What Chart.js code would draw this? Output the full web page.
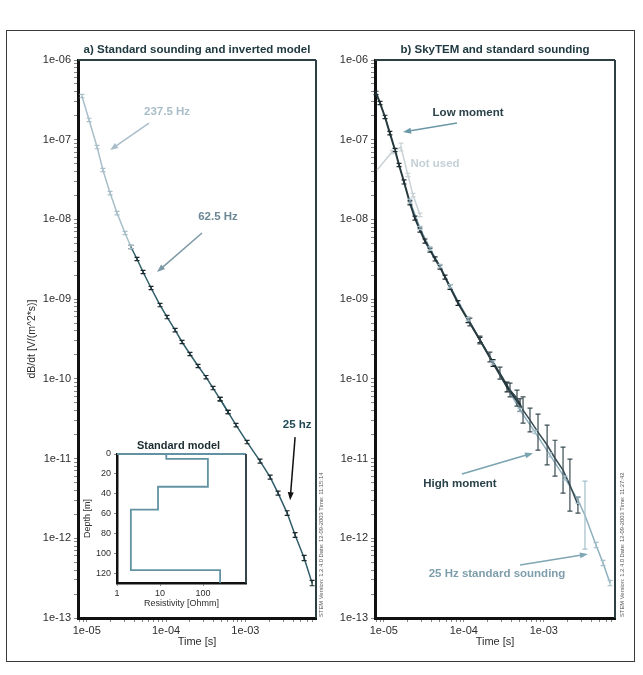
<!DOCTYPE html>
<html>
<head>
<meta charset="utf-8">
<script src="https://cdn.jsdelivr.net/npm/chart.js@4.4.1/dist/chart.umd.min.js"></script>
<style>
  body { margin: 0; background: #fff; }
  #wrap { position: relative; width: 643px; height: 675px; overflow: hidden; }
  #frame { position: absolute; left: 6px; top: 30px; width: 629px; height: 632px; border: 1.5px solid #3a3a3a; box-sizing: border-box; }
  canvas { position: absolute; left: 0; top: 0; }
</style>
</head>
<body>
<div id="wrap">
  <div id="frame"></div>
  <canvas id="left" width="643" height="675"></canvas>
  <canvas id="right" width="643" height="675"></canvas>
  <canvas id="inset" width="643" height="675"></canvas>
</div>
<script>
// ---- axis ticks
const yTickValues = [1e-13, 1e-12, 1e-11, 1e-10, 1e-9, 1e-8, 1e-7, 1e-6];
const yTickLabels = ['1e-13', '1e-12', '1e-11', '1e-10', '1e-09', '1e-08', '1e-07', '1e-06'];
const xTickValues = [1e-5, 1e-4, 1e-3];
const xTickLabels = ['1e-05', '1e-04', '1e-03'];
const timeMin = 7.76e-6, timeMax = 7.76e-3;

// ---- a) standard sounding (time [s], dB/dt, error factor)
const t237 = [8.7e-6, 1.07e-5, 1.35e-5, 1.6e-5, 1.97e-5, 2.41e-5, 3.04e-5, 3.61e-5];
const v237 = [3.53e-7, 1.77e-7, 8.09e-8, 4.17e-8, 2.14e-8, 1.2e-8, 6.75e-9, 4.51e-9];
const e237 = [1.05, 1.05, 1.05, 1.05, 1.05, 1.05, 1.05, 1.05];

const t62 = [3.61e-5, 4.3e-5, 5.13e-5, 6.47e-5, 8.39e-5, 1.03e-4, 1.3e-4, 1.59e-4, 2.0e-4, 2.53e-4, 3.19e-4, 3.91e-4, 4.8e-4, 6.05e-4];
const v62 = [4.51e-9, 3.19e-9, 2.19e-9, 1.38e-9, 8.43e-10, 5.96e-10, 4.09e-10, 2.9e-10, 2.05e-10, 1.45e-10, 1.05e-10, 7.67e-11, 5.57e-11, 3.83e-11];
const e62 = [1.05, 1.05, 1.05, 1.05, 1.05, 1.05, 1.05, 1.05, 1.05, 1.05, 1.05, 1.05, 1.05, 1.05];

const t25 = [4.8e-4, 6.05e-4, 7.62e-4, 1.05e-3, 1.53e-3, 2.05e-3, 2.58e-3, 3.36e-3, 4.23e-3, 5.5e-3, 6.93e-3];
const v25 = [5.57e-11, 3.83e-11, 2.63e-11, 1.61e-11, 9.31e-12, 5.86e-12, 3.69e-12, 2.07e-12, 1.1e-12, 5.65e-13, 2.74e-13];
const e25 = [1.05, 1.05, 1.05, 1.05, 1.06, 1.06, 1.06, 1.07, 1.07, 1.08, 1.08];

// ---- b) SkyTEM and standard sounding
const tLow = [7.99e-6, 8.96e-6, 1.035e-5, 1.19e-5, 1.38e-5, 1.55e-5, 1.79e-5, 2.12e-5, 2.45e-5, 2.83e-5, 3.27e-5, 3.78e-5, 4.37e-5, 5.04e-5, 5.82e-5, 6.72e-5, 8.46e-5, 1.13e-4, 1.59e-4, 2.32e-4, 3.47e-4, 5.04e-4];
const vLow = [3.86e-7, 2.89e-7, 1.93e-7, 1.21e-7, 7.43e-8, 4.82e-8, 2.95e-8, 1.61e-8, 1.04e-8, 7.36e-9, 5.36e-9, 4.13e-9, 3.19e-9, 2.53e-9, 1.89e-9, 1.42e-9, 8.93e-10, 5.47e-10, 3.07e-10, 1.58e-10, 7.89e-11, 4.69e-11];
const eLow = [1.05, 1.05, 1.05, 1.05, 1.05, 1.05, 1.06, 1.06, 1.06, 1.06, 1.06, 1.06, 1.06, 1.06, 1.06, 1.07, 1.07, 1.08, 1.08, 1.1, 1.15, 1.2];

const tHigh = [1.19e-4, 1.59e-4, 2.12e-4, 2.83e-4, 3.78e-4, 4.62e-4, 5.5e-4, 6.72e-4, 8.46e-4, 1.1e-3, 1.38e-3, 1.74e-3, 2.12e-3, 2.67e-3];
const vHigh = [5.16e-10, 3.07e-10, 1.88e-10, 1.18e-10, 7.23e-11, 5.74e-11, 4.06e-11, 3.04e-11, 2.15e-11, 1.48e-11, 1.01e-11, 7.17e-12, 4.65e-12, 2.61e-12];
const eHigh = [1.12, 1.12, 1.15, 1.19, 1.22, 1.26, 1.46, 1.41, 1.68, 1.78, 1.68, 1.94, 2.12, 1.26];

const tStd = [2.12e-5, 2.83e-5, 3.78e-5, 5.04e-5, 6.72e-5, 1.13e-4, 2.32e-4, 5.04e-4, 7.76e-4, 1.19e-3, 1.84e-3, 2.67e-3, 3.27e-3, 4.49e-3, 5.5e-3, 6.72e-3];
const vStd = [1.7e-8, 7.8e-9, 4.3e-9, 2.6e-9, 1.45e-9, 5.6e-10, 1.6e-10, 4.06e-11, 2.15e-11, 1.11e-11, 5.69e-12, 3.01e-12, 1.95e-12, 8.22e-13, 4.89e-13, 2.74e-13];
const eStd = [1.06, 1.05, 1.05, 1.05, 1.05, 1.05, 1.05, 1.05, 1.05, 1.06, 1.06, 1.1, 2.67, 1.08, 1.08, 1.08];

const tNotUsed = [8.22e-6, 1.27e-5, 1.64e-5, 2.0e-5, 2.32e-5, 2.83e-5];
const vNotUsed = [4.17e-8, 7.02e-8, 8.09e-8, 3.61e-8, 2.02e-8, 1.14e-8];
const eNotUsed = [1, 1.05, 1.12, 1.05, 1.05, 1.05];

// ---- inset: standard model (resistivity [Ohmm], layer top depth [m])
const layerRes = [14, 130, 9, 2.1, 250];
const layerTop = [0, 5, 33, 56, 117];
const modelDepthMax = 130;
const depthTicks = [0, 20, 40, 60, 80, 100, 120];
const resTicks = [1, 10, 100];
const resTickLabels = ['1', '10', '100'];

const FONT = '"Liberation Sans", Arial, sans-serif';
Chart.defaults.font.family = FONT;
Chart.defaults.animation = false;

const pts = (ts, vs) => ts.map((t, i) => ({ x: t, y: vs[i] }));

// annotations in data coordinates
const notesA = [
  { text: '237.5 Hz', at: [1.03e-4, 2.23e-7], color: '#a9bdc8', from: [6.09e-5, 1.62e-7], to: [1.97e-5, 7.43e-8], arrow: '#a9bdc8' },
  { text: '62.5 Hz', at: [4.52e-4, 1.07e-8], color: '#6b8894', from: [2.84e-4, 6.75e-9], to: [7.69e-5, 2.19e-9], arrow: '#7b98a4' },
  { text: '25 hz', at: [4.49e-3, 2.63e-11], color: '#1f4a55', from: [4.23e-3, 1.86e-11], to: [3.66e-3, 3.01e-12], arrow: '#111' }
];
const notesB = [
  { text: 'Low moment', at: [1.13e-4, 2.16e-7], color: '#2a4249', from: [8.22e-5, 1.62e-7], to: [1.74e-5, 1.25e-7], arrow: '#6a98a6' },
  { text: 'Not used', at: [4.37e-5, 4.95e-8], color: '#c4d0d6' },
  { text: 'High moment', at: [8.95e-5, 4.79e-12], color: '#2a4249', from: [9.48e-5, 6.4e-12], to: [7.33e-4, 1.17e-11], arrow: '#7aa3b0' },
  { text: '25 Hz standard sounding', at: [2.6e-4, 3.56e-13], color: '#7f9eab', from: [5.04e-4, 4.61e-13], to: [3.56e-3, 6.34e-13], arrow: '#7fa6b3' }
];

// ---- plugins
const boxPlugin = {
  id: 'box',
  afterDraw(chart, args, o) {
    const { ctx, chartArea: a } = chart;
    ctx.save();
    ctx.lineWidth = o.width || 2;
    ctx.strokeStyle = o.top || '#2e3f44';
    ctx.beginPath(); ctx.moveTo(a.left, a.top); ctx.lineTo(a.right, a.top); ctx.stroke();
    ctx.strokeStyle = o.right || '#2e3f44';
    ctx.beginPath(); ctx.moveTo(a.right, a.top); ctx.lineTo(a.right, a.bottom); ctx.stroke();
    if (o.caption) {
      ctx.fillStyle = o.captionColor || '#203a42';
      ctx.font = o.captionFont;
      ctx.textAlign = 'center';
      ctx.textBaseline = 'middle';
      ctx.fillText(o.caption, (a.left + a.right) / 2 + (o.captionDx || 0), a.top + o.captionDy);
    }
    if (o.stamp) {
      ctx.translate(a.right + o.stampDx, a.bottom - 1);
      ctx.rotate(-Math.PI / 2);
      ctx.fillStyle = '#555';
      ctx.font = '5.8px ' + FONT;
      ctx.textAlign = 'left';
      ctx.textBaseline = 'middle';
      ctx.fillText(o.stamp, 0, 0);
    }
    ctx.restore();
  }
};

const errPlugin = {
  id: 'err',
  afterDatasetsDraw(chart) {
    const { ctx, scales: { x, y } } = chart;
    chart.data.datasets.forEach((ds, i) => {
      if (!ds.errors) return;
      ctx.save();
      ctx.strokeStyle = ds.errColor || ds.borderColor;
      ctx.lineWidth = 1.2;
      ds.data.forEach((p, j) => {
        const f = ds.errors[j];
        if (!f || f <= 1) return;
        const px = x.getPixelForValue(p.x);
        const y1 = y.getPixelForValue(p.y / f);
        const y2 = y.getPixelForValue(p.y * f);
        ctx.beginPath();
        ctx.moveTo(px, y1); ctx.lineTo(px, y2);
        ctx.moveTo(px - 2.5, y1); ctx.lineTo(px + 2.5, y1);
        ctx.moveTo(px - 2.5, y2); ctx.lineTo(px + 2.5, y2);
        ctx.stroke();
      });
      ctx.restore();
    });
  }
};

const notesPlugin = {
  id: 'notes',
  afterDraw(chart, args, o) {
    const { ctx, scales: { x, y } } = chart;
    ctx.save();
    (o.items || []).forEach(n => {
      if (n.from) {
        const x1 = x.getPixelForValue(n.from[0]), y1 = y.getPixelForValue(n.from[1]);
        const x2 = x.getPixelForValue(n.to[0]), y2 = y.getPixelForValue(n.to[1]);
        const ang = Math.atan2(y2 - y1, x2 - x1);
        ctx.strokeStyle = n.arrow; ctx.fillStyle = n.arrow; ctx.lineWidth = 1.5;
        ctx.beginPath(); ctx.moveTo(x1, y1);
        ctx.lineTo(x2 - 6 * Math.cos(ang), y2 - 6 * Math.sin(ang)); ctx.stroke();
        ctx.beginPath();
        ctx.moveTo(x2, y2);
        ctx.lineTo(x2 - 8 * Math.cos(ang) + 3 * Math.sin(ang), y2 - 8 * Math.sin(ang) - 3 * Math.cos(ang));
        ctx.lineTo(x2 - 8 * Math.cos(ang) - 3 * Math.sin(ang), y2 - 8 * Math.sin(ang) + 3 * Math.cos(ang));
        ctx.closePath(); ctx.fill();
      }
      ctx.fillStyle = n.color;
      ctx.font = 'bold 11.5px ' + FONT;
      ctx.textAlign = 'center';
      ctx.textBaseline = 'middle';
      ctx.fillText(n.text, x.getPixelForValue(n.at[0]), y.getPixelForValue(n.at[1]));
    });
    ctx.restore();
  }
};

function logTickList(majors, lo, hi) {
  const out = [];
  majors.forEach(v => { for (let m = 1; m <= 9; m++) { const t = v * m; if (t >= lo * 0.999 && t <= hi * 1.001) out.push({ value: t }); } });
  return out;
}
function labelFor(values, labels) {
  return (value) => {
    const i = values.findIndex(v => Math.abs(v / value - 1) < 1e-6);
    return i >= 0 ? labels[i] : '';
  };
}

function panel(id, datasets, notes, pad, opts) {
  return new Chart(document.getElementById(id), {
    type: 'line',
    data: { datasets },
    plugins: [errPlugin, notesPlugin, boxPlugin],
    options: {
      responsive: false,
      layout: { padding: pad },
      elements: { point: { radius: 0 }, line: { borderWidth: 1.5, tension: 0 } },
      plugins: {
        legend: { display: false },
        tooltip: { enabled: false },
        notes: { items: notes },
        box: opts.box
      },
      scales: {
        x: {
          type: 'logarithmic', min: timeMin, max: timeMax,
          afterBuildTicks: s => { s.ticks = logTickList([1e-6, 1e-5, 1e-4, 1e-3], timeMin, timeMax); },
          afterFit: s => { s.height = 31; },
          grid: { drawOnChartArea: false, tickLength: 4, tickColor: '#888' },
          border: { color: '#111', width: 3 },
          ticks: { autoSkip: false, maxRotation: 0, padding: 2, color: '#2d2d2d', font: { size: 11 }, callback: labelFor(xTickValues, xTickLabels) },
          title: { display: true, text: 'Time [s]', color: '#2d2d2d', font: { size: 11 }, padding: 0 }
        },
        y: {
          type: 'logarithmic', min: 1e-13, max: 1e-6,
          afterBuildTicks: s => { s.ticks = logTickList(yTickValues, 1e-13, 1e-6); },
          afterFit: s => { s.width = 52; },
          grid: { drawOnChartArea: false, tickLength: 4, tickColor: '#888' },
          border: { color: '#111', width: 3 },
          ticks: { autoSkip: false, padding: 3, color: '#2d2d2d', font: { size: 11 }, callback: labelFor(yTickValues, yTickLabels) },
          title: { display: opts.yTitle, text: 'dB/dt [V/(m^2*s)]', color: '#2d2d2d', font: { size: 10.5 }, padding: 0 }
        }
      }
    }
  });
}

panel('left', [
  { data: pts(t62, v62), errors: e62, borderColor: '#2f5d69', errColor: '#1b2a2f' },
  { data: pts(t25, v25), errors: e25, borderColor: '#2f5d69', errColor: '#1b2a2f' },
  { data: pts(t237, v237), errors: e237, borderColor: '#a9bfca', errColor: '#a9bfca' }
], notesA, { left: 26, right: 327, top: 60, bottom: 26 }, {
  yTitle: true,
  box: { caption: 'a) Standard sounding and inverted model', captionFont: 'bold 11.5px ' + FONT, captionDy: -10,
         stamp: 'STEM Version: 1.2.4.0 Date: 12-09-2003 Time: 11:15:14', stampDx: 5 }
});

panel('right', [
  { data: pts(tLow, vLow), errors: eLow, borderColor: '#263a40', borderWidth: 2, errColor: '#1e2c30' },
  { data: pts(tHigh, vHigh), errors: eHigh, borderColor: '#34494f', errColor: '#3a4d53' },
  { data: pts(tStd, vStd), errors: eStd, borderColor: '#8fb0be', errColor: '#a3bfca' },
  { data: pts(tNotUsed, vNotUsed), errors: eNotUsed, borderColor: '#c9d2d6', errColor: '#c9d2d6' }
], notesB, { left: 323, right: 28, top: 60, bottom: 26 }, {
  yTitle: false,
  box: { caption: 'b) SkyTEM and standard sounding', captionFont: 'bold 11.5px ' + FONT, captionDy: -10,
         stamp: 'STEM Version: 1.2.4.0 Date: 12-09-2003 Time: 11:27:42', stampDx: 7 }
});

// inset model as a step line built from the layer arrays
const modelPts = [];
layerRes.forEach((r, i) => {
  const bottom = i + 1 < layerTop.length ? layerTop[i + 1] : modelDepthMax;
  modelPts.push({ x: r, y: layerTop[i] }, { x: r, y: bottom });
});

new Chart(document.getElementById('inset'), {
  type: 'line',
  data: { datasets: [{ data: modelPts, borderColor: '#6393a2', borderWidth: 1.8, pointRadius: 0, tension: 0 }] },
  plugins: [boxPlugin],
  options: {
    responsive: false,
    layout: { padding: { left: 82, right: 397, top: 454, bottom: 66 } },
    plugins: {
      legend: { display: false },
      tooltip: { enabled: false },
      box: { top: '#6393a2', right: '#34464b', width: 2, caption: 'Standard model', captionFont: 'bold 11px ' + FONT, captionDy: -8, captionDx: -3, captionColor: '#1c2b30' }
    },
    scales: {
      x: {
        type: 'logarithmic', min: 1, max: 1000,
        afterBuildTicks: s => { s.ticks = resTicks.map(v => ({ value: v })); },
        afterFit: s => { s.height = 26; },
        grid: { drawOnChartArea: false, tickLength: 3, tickColor: '#888' },
        border: { color: '#111', width: 2.5 },
        ticks: { autoSkip: false, maxRotation: 0, padding: 2, color: '#2d2d2d', font: { size: 9 }, callback: labelFor(resTicks, resTickLabels) },
        title: { display: true, text: 'Resistivity [Ohmm]', color: '#2d2d2d', font: { size: 9 }, padding: 0 }
      },
      y: {
        type: 'linear', min: 0, max: modelDepthMax, reverse: true,
        afterBuildTicks: s => { s.ticks = depthTicks.map(v => ({ value: v })); },
        afterFit: s => { s.width = 35; },
        grid: { drawOnChartArea: false, tickLength: 3, tickColor: '#888' },
        border: { color: '#111', width: 2.5 },
        ticks: { autoSkip: false, padding: 3, color: '#2d2d2d', font: { size: 9 } },
        title: { display: true, text: 'Depth [m]', color: '#2d2d2d', font: { size: 9 }, padding: 0 }
      }
    }
  }
});
</script>
</body>
</html>
